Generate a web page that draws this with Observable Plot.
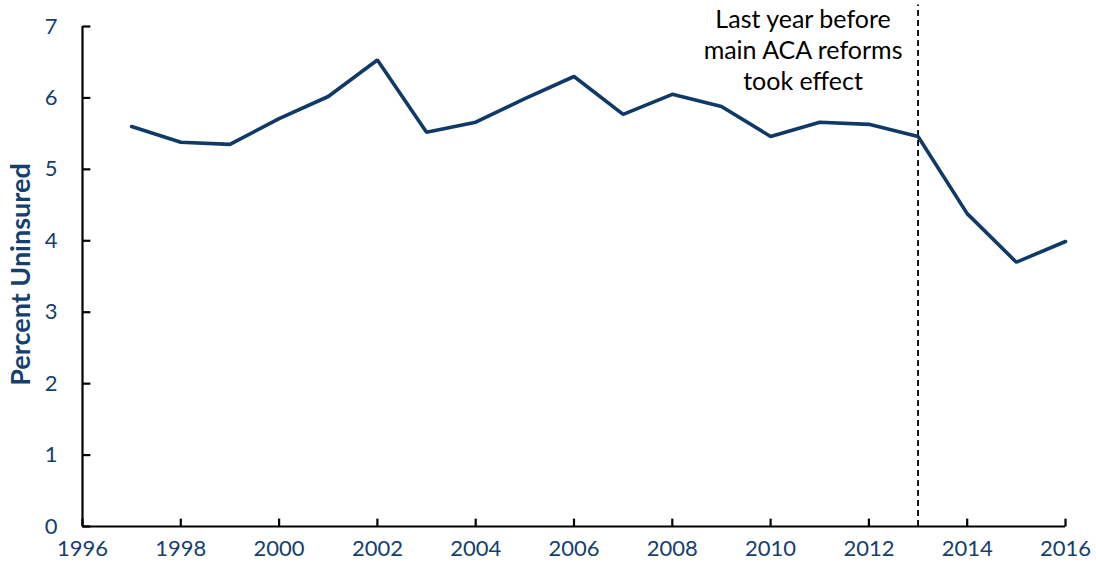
<!DOCTYPE html>
<html>
<head>
<meta charset="utf-8">
<script src="https://cdn.jsdelivr.net/npm/d3@7"></script>
<script src="https://cdn.jsdelivr.net/npm/@observablehq/plot@0.6"></script>
<style>
  html, body { margin: 0; padding: 0; background: #fff; }
  #chart { width: 1096px; height: 573px; }
</style>
</head>
<body>
<div id="chart"></div>
<script>
const years = [1997,1998,1999,2000,2001,2002,2003,2004,2005,2006,2007,2008,2009,2010,2011,2012,2013,2014,2015,2016];
const uninsured = [5.60,5.38,5.35,5.71,6.02,6.53,5.52,5.66,5.99,6.30,5.77,6.05,5.88,5.46,5.66,5.63,5.46,4.38,3.70,3.99];
const xTicks = [1996,1998,2000,2002,2004,2006,2008,2010,2012,2014,2016];
const yTicks = [0,1,2,3,4,5,6,7];
const yLabel = "Percent Uninsured";
const reformYear = 2013;
const noteText = "Last year before\nmain ACA reforms\ntook effect";
const noteX = 2010.66;
const noteY = 6.68;

const data = years.map((y, i) => ({year: y, value: uninsured[i]}));
const navy = "#13406f";
const lineColor = "#0f3a68";

const chart = Plot.plot({
  width: 1096,
  height: 573,
  marginLeft: 82,
  marginRight: 31,
  marginTop: 26,
  marginBottom: 47,
  style: {fontFamily: "Lato, 'Open Sans', sans-serif", fontSize: "22px", background: "#fff"},
  x: {domain: [1996, 2016]},
  y: {domain: [0, 7]},
  marks: [
    Plot.axisX({ticks: xTicks, tickFormat: d => String(d), tickSize: 0, tickPadding: 14, fill: navy, fontSize: 22, label: null}),
    Plot.axisY({ticks: yTicks, tickFormat: d => String(d), tickSize: 0, tickPadding: 25, fill: navy, fontSize: 22, label: null}),
    Plot.link(xTicks, {x1: d => d, x2: d => d, y1: 0, y2: 0.11, stroke: "black", strokeWidth: 2.2}),
    Plot.link(yTicks, {y1: d => d, y2: d => d, x1: 1996, x2: 1996.16, stroke: "black", strokeWidth: 2.2}),
    Plot.ruleY([0], {x1: 1996, x2: 2016, stroke: "black", strokeWidth: 2.2}),
    Plot.ruleX([1996], {y1: 0, y2: 7, stroke: "black", strokeWidth: 2.2}),
    Plot.ruleX([reformYear], {y1: 0, y2: 7.3, stroke: "black", strokeWidth: 1.8, strokeDasharray: "6,4", clip: false}),
    Plot.line(data, {x: "year", y: "value", stroke: lineColor, strokeWidth: 3.6, strokeLinejoin: "miter"}),
    Plot.text([noteText], {x: noteX, y: noteY, text: d => d, fill: "black", fontSize: 25, lineHeight: 1.24, textAnchor: "middle"}),
    Plot.text([yLabel], {frameAnchor: "left", dx: -61, dy: -2, rotate: -90, text: d => d, fill: navy, fontSize: 27, fontWeight: "bold", textAnchor: "middle"})
  ]
});
document.getElementById("chart").appendChild(chart);
</script>
</body>
</html>
